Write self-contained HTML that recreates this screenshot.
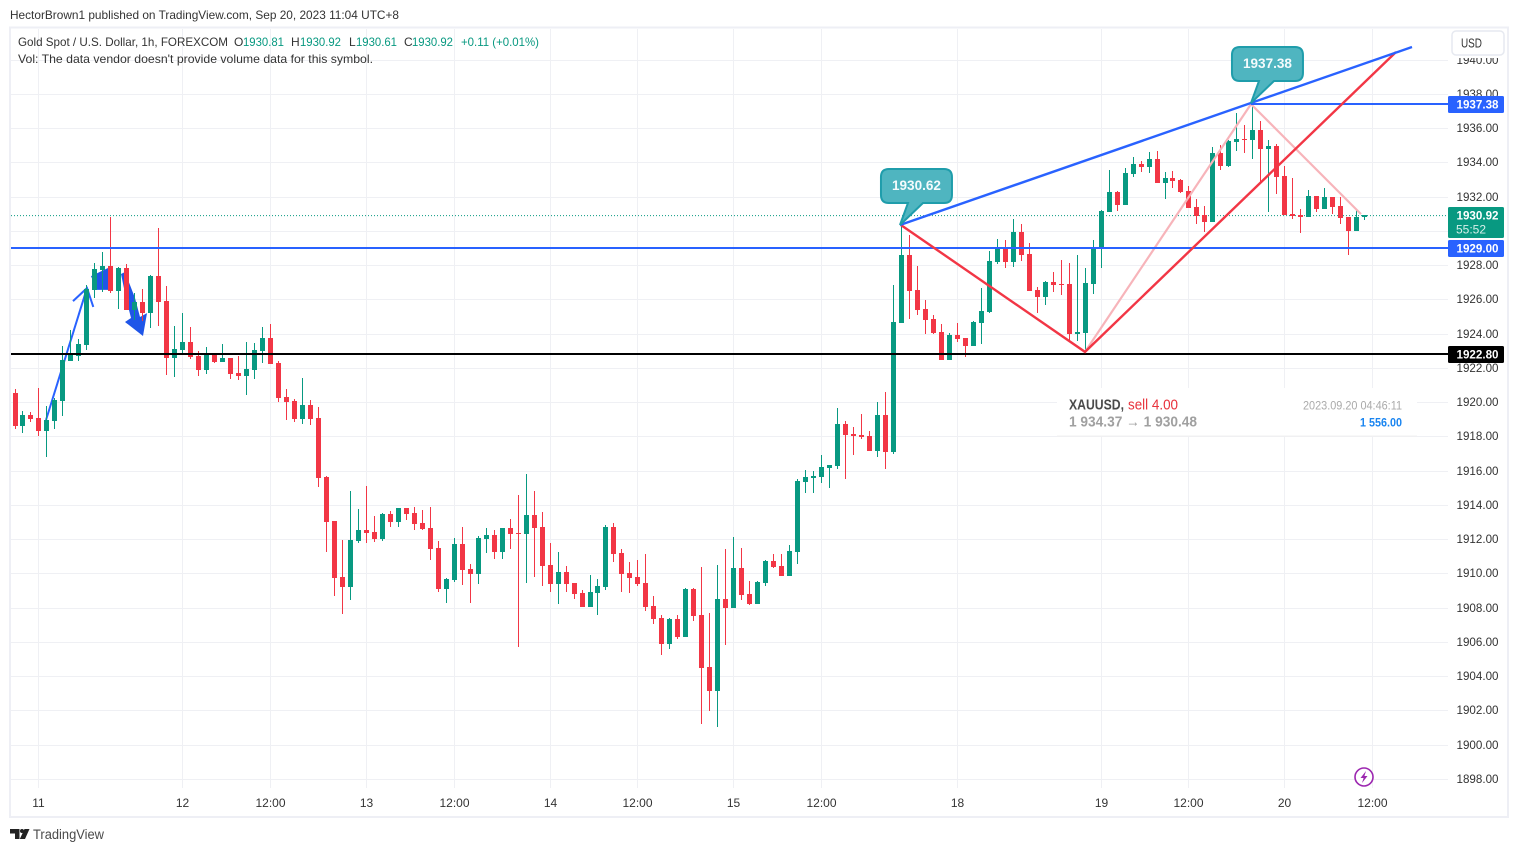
<!DOCTYPE html>
<html lang="en">
<head>
<meta charset="utf-8">
<title>XAUUSD 1h chart</title>
<style>
html,body{margin:0;padding:0;background:#fff;width:1518px;height:852px;overflow:hidden}
svg{display:block;font-family:"Liberation Sans","DejaVu Sans",sans-serif}
</style>
</head>
<body>
<svg id="chart" xmlns="http://www.w3.org/2000/svg" width="1518" height="852" viewBox="0 0 1518 852">
  <rect x="0" y="0" width="1518" height="852" fill="#ffffff"/>
  <text x="10" y="19" font-size="12" fill="#333" textLength="389" lengthAdjust="spacingAndGlyphs">HectorBrown1 published on TradingView.com, Sep 20, 2023 11:04 UTC+8</text>
  <rect x="10" y="27.5" width="1498" height="789.5" fill="none" stroke="#eeeff5" stroke-width="2"/>
  <g id="grid"></g>
  <g id="under-drawings"></g>
  <g id="candles" shape-rendering="crispEdges"></g>
  <g id="drawings"></g>

  <g>
    <rect x="1057" y="388" width="360" height="48" fill="#ffffff"/>
    <rect x="1057" y="435.5" width="360" height="1" fill="#f0f0f0"/>
    <text x="1069" y="409.5" font-size="15" font-weight="700" fill="#4a4a4a" textLength="55" lengthAdjust="spacingAndGlyphs">XAUUSD,</text>
    <text x="1128" y="409.5" font-size="15" fill="#e8323c" textLength="50" lengthAdjust="spacingAndGlyphs">sell 4.00</text>
    <text x="1069" y="426.5" font-size="15" font-weight="700" fill="#a0a0a0" textLength="128" lengthAdjust="spacingAndGlyphs">1 934.37 → 1 930.48</text>
    <text x="1303" y="409.5" font-size="12" fill="#aaaaaa" textLength="99" lengthAdjust="spacingAndGlyphs">2023.09.20 04:46:11</text>
    <text x="1360" y="426.5" font-size="12" font-weight="700" fill="#1a85f0" textLength="42" lengthAdjust="spacingAndGlyphs">1 556.00</text>
  </g>

  <rect x="1448" y="29" width="59" height="787" fill="#ffffff"/>
  <g id="price-axis"></g>
  <g id="time-axis"></g>
  <rect x="1448" y="29" width="59" height="29" fill="#ffffff"/>
  <g id="tags"></g>

  <rect x="1452" y="31" width="52" height="24" rx="4" fill="#ffffff" stroke="#e6e9f0" stroke-width="1.5"/>
  <text x="1461" y="47.5" font-size="12.5" fill="#333" textLength="21" lengthAdjust="spacingAndGlyphs">USD</text>

  <g font-size="12">
    <text x="18" y="46" fill="#333" textLength="210" lengthAdjust="spacingAndGlyphs">Gold Spot / U.S. Dollar, 1h, FOREXCOM</text>
    <text x="234" y="46" fill="#333">O</text>
    <text x="243" y="46" fill="#089981" textLength="41" lengthAdjust="spacingAndGlyphs">1930.81</text>
    <text x="291" y="46" fill="#333">H</text>
    <text x="300" y="46" fill="#089981" textLength="41" lengthAdjust="spacingAndGlyphs">1930.92</text>
    <text x="349" y="46" fill="#333">L</text>
    <text x="356" y="46" fill="#089981" textLength="41" lengthAdjust="spacingAndGlyphs">1930.61</text>
    <text x="404" y="46" fill="#333">C</text>
    <text x="412" y="46" fill="#089981" textLength="41" lengthAdjust="spacingAndGlyphs">1930.92</text>
    <text x="461" y="46" fill="#089981" textLength="78" lengthAdjust="spacingAndGlyphs">+0.11 (+0.01%)</text>
    <text x="18" y="63" fill="#333" textLength="355" lengthAdjust="spacingAndGlyphs">Vol: The data vendor doesn't provide volume data for this symbol.</text>
  </g>

  <g>
    <circle cx="1364" cy="777" r="9" fill="#ffffff" stroke="#9c27b0" stroke-width="1.6"/>
    <path d="M1366 771 L1360.5 778 L1363.6 778 L1362 783 L1367.5 776 L1364.4 776 Z" fill="#9c27b0"/>
  </g>

  <g>
    <path d="M10 829 H19.5 V839 H15 V833.5 H10 Z" fill="#222"/>
    <circle cx="22" cy="831" r="2" fill="#222"/>
    <path d="M24.5 829 H29.5 L25 839 H19.8 Z" fill="#222"/>
    <text x="33" y="839" font-size="13.5" fill="#4a4a4a" textLength="71" lengthAdjust="spacingAndGlyphs">TradingView</text>
  </g>
</svg>

<script>
const opens = [
1920.53,1918.61,1919.25,1919.07,1918.31,1918.90,1920.07,1922.40,1922.69,1923.34,
1926.55,1927.71,1927.95,1926.49,1927.83,1925.38,1925.85,1925.20,1927.36,1925.90,
1922.58,1923.04,1923.51,1922.69,1921.88,1922.81,1922.34,1922.58,1921.70,1921.53,
1921.88,1922.99,1923.74,1922.28,1920.30,1920.07,1919.02,1919.83,1919.07,1915.63,
1913.06,1909.79,1909.21,1911.89,1912.53,1912.42,1912.01,1913.47,1913.00,1913.82,
1913.53,1912.94,1912.65,1911.48,1909.09,1909.61,1911.72,1910.26,1909.97,1912.01,
1912.24,1911.25,1912.65,1912.36,1912.30,1913.41,1912.71,1910.49,1909.38,1910.08,
1909.44,1908.86,1908.04,1908.86,1909.21,1912.71,1911.19,1910.03,1909.79,1909.44,
1908.10,1907.40,1905.88,1907.34,1906.29,1909.09,1907.58,1904.54,1903.14,1908.51,
1907.98,1910.32,1908.80,1908.22,1909.44,1910.73,1910.44,1909.85,1911.25,1915.34,
1915.57,1915.63,1916.16,1916.27,1918.73,1918.14,1918.08,1918.02,1917.15,1919.25,
1917.09,1924.62,1928.59,1926.55,1925.44,1924.85,1924.09,1922.46,1923.92,1923.74,
1923.28,1924.62,1925.26,1928.18,1928.94,1928.18,1929.93,1928.65,1926.55,1926.14,
1927.01,1926.90,1926.90,1923.98,1924.04,1926.90,1929.00,1931.10,1932.27,1931.51,
1933.32,1933.90,1933.72,1934.19,1932.79,1933.08,1932.97,1932.32,1931.39,1930.92,
1930.51,1934.54,1933.78,1935.18,1935.36,1935.30,1935.88,1934.78,1934.95,1933.20,
1930.98,1930.92,1930.81,1932.03,1931.27,1931.97,1931.45,1930.81,1929.99,1930.81];
const highs = [
1920.75,1919.48,1919.42,1920.83,1919.77,1920.24,1923.28,1924.21,1923.69,1926.84,
1928.12,1928.76,1930.81,1927.89,1928.06,1926.37,1926.60,1927.42,1930.17,1926.78,
1924.44,1925.20,1924.39,1922.99,1923.22,1922.81,1923.39,1922.58,1922.69,1923.51,
1923.45,1924.39,1924.56,1922.40,1920.77,1920.18,1921.41,1920.12,1919.72,1915.69,
1913.06,1911.95,1914.81,1913.76,1915.10,1913.35,1913.53,1913.64,1913.82,1913.82,
1913.88,1913.70,1913.88,1911.89,1909.73,1912.07,1912.71,1910.55,1912.18,1912.65,
1912.53,1912.65,1913.18,1914.58,1915.80,1914.81,1913.58,1911.77,1911.25,1910.43,
1909.44,1909.03,1909.91,1909.67,1912.83,1912.95,1911.43,1910.67,1910.79,1911.14,
1908.68,1907.58,1907.40,1907.58,1909.15,1909.15,1910.38,1907.69,1910.49,1911.43,
1912.13,1911.49,1909.56,1909.56,1910.79,1911.14,1911.14,1911.66,1915.51,1916.04,
1915.98,1916.92,1916.33,1919.66,1918.90,1918.55,1919.31,1918.32,1920.01,1920.59,
1926.84,1930.45,1929.76,1927.95,1925.96,1925.09,1924.56,1924.04,1924.62,1923.74,
1924.74,1926.66,1928.82,1929.52,1929.46,1930.69,1930.40,1929.29,1926.72,1927.07,
1927.60,1928.30,1928.12,1928.59,1927.83,1929.46,1931.22,1933.55,1932.32,1933.67,
1934.31,1934.08,1934.60,1934.66,1933.43,1933.49,1933.02,1932.62,1931.86,1931.45,
1934.89,1935.01,1935.30,1936.88,1936.18,1937.38,1936.41,1935.30,1935.07,1933.78,
1933.08,1931.27,1932.38,1932.03,1932.50,1931.97,1931.97,1930.81,1931.27,1930.92];
const lows = [
1918.43,1918.20,1918.84,1918.02,1916.80,1918.43,1919.19,1922.40,1922.40,1923.04,
1926.08,1926.43,1926.37,1925.44,1925.38,1924.79,1924.74,1924.33,1924.44,1921.58,
1921.47,1922.87,1922.52,1921.53,1921.64,1922.28,1922.34,1921.35,1921.29,1920.42,
1921.35,1922.28,1922.23,1920.01,1918.96,1918.84,1918.72,1918.67,1915.04,1911.25,
1908.68,1907.63,1908.45,1911.77,1911.77,1911.83,1911.89,1912.71,1912.71,1913.12,
1912.53,1912.53,1910.78,1908.91,1908.27,1909.50,1909.32,1908.27,1909.38,1911.19,
1910.84,1910.84,1911.42,1905.70,1909.44,1909.79,1909.26,1908.91,1908.21,1908.91,
1908.51,1908.04,1908.04,1907.57,1909.03,1910.67,1908.92,1908.86,1909.27,1907.81,
1907.05,1905.24,1905.59,1906.17,1906.29,1907.22,1901.21,1901.97,1901.04,1905.82,
1907.98,1908.45,1908.16,1908.22,1909.27,1910.32,1909.85,1909.85,1910.55,1914.70,
1914.70,1915.28,1914.99,1916.10,1915.51,1916.92,1917.85,1917.15,1916.80,1916.10,
1916.97,1924.62,1924.85,1925.09,1923.98,1923.98,1922.46,1922.46,1923.51,1922.63,
1923.28,1923.39,1925.20,1928.06,1927.83,1927.89,1928.24,1926.49,1925.20,1925.67,
1926.43,1926.25,1923.63,1923.57,1922.93,1926.31,1927.83,1931.10,1931.16,1931.51,
1933.14,1933.43,1933.37,1932.79,1931.86,1932.50,1932.21,1931.33,1930.40,1929.93,
1930.51,1933.55,1933.72,1934.66,1934.54,1934.19,1932.85,1931.10,1932.15,1930.92,
1930.69,1929.87,1930.81,1931.10,1931.27,1930.98,1930.40,1928.59,1929.99,1930.61];
const closes = [
1918.61,1919.25,1919.02,1918.31,1918.96,1920.12,1922.46,1922.75,1923.39,1926.60,
1927.77,1927.95,1926.49,1927.83,1925.38,1925.85,1925.20,1927.36,1925.85,1922.58,
1923.10,1923.51,1922.63,1921.88,1922.81,1922.34,1922.58,1921.64,1921.53,1921.93,
1923.04,1923.74,1922.23,1920.24,1920.01,1919.02,1919.83,1919.02,1915.57,1913.00,
1909.73,1909.21,1911.95,1912.53,1912.36,1912.01,1913.47,1913.00,1913.82,1913.47,
1912.88,1912.59,1911.42,1909.09,1909.67,1911.72,1910.20,1909.97,1912.07,1912.24,
1911.25,1912.65,1912.30,1912.30,1913.41,1912.65,1910.43,1909.38,1910.08,1909.38,
1908.80,1908.04,1908.91,1909.26,1912.71,1911.14,1909.97,1909.74,1909.38,1908.04,
1907.34,1905.88,1907.34,1906.29,1909.09,1907.52,1904.48,1903.14,1908.51,1907.98,
1910.32,1908.74,1908.22,1909.50,1910.73,1910.38,1909.85,1911.31,1915.40,1915.63,
1915.69,1916.21,1916.33,1918.73,1918.08,1918.02,1917.97,1917.15,1919.25,1917.09,
1924.68,1928.59,1926.49,1925.38,1924.79,1924.04,1922.46,1923.92,1923.69,1923.28,
1924.68,1925.32,1928.24,1928.94,1928.18,1929.93,1928.59,1926.49,1926.14,1927.01,
1926.84,1926.84,1923.98,1924.09,1926.95,1929.04,1931.16,1932.27,1931.51,1933.37,
1933.90,1933.72,1934.19,1932.79,1933.08,1932.91,1932.27,1931.33,1930.86,1930.51,
1934.54,1933.78,1935.24,1935.36,1935.30,1935.88,1934.78,1934.95,1933.14,1930.92,
1930.86,1930.81,1932.03,1931.27,1931.97,1931.39,1930.75,1929.99,1930.81,1930.92];

const priceTicks = [1898,1900,1902,1904,1906,1908,1910,1912,1914,1916,1918,1920,1922,1924,1926,1928,1930,1932,1934,1936,1938,1940];
const priceTickLabels = ["1898.00","1900.00","1902.00","1904.00","1906.00","1908.00","1910.00","1912.00","1914.00","1916.00","1918.00","1920.00","1922.00","1924.00","1926.00","1928.00","","1932.00","1934.00","1936.00","1938.00","1940.00"];
const timeTickBars = [3,21,32,44,55,67,78,90,101,118,136,147,159,170];
const timeTickLabels = ["11","12","12:00","13","12:00","14","12:00","15","12:00","18","19","12:00","20","12:00"];

const levelPrices = [1937.38,1929.00,1922.80];
const levelLabels = ["1937.38","1929.00","1922.80"];
const levelStartBars = [154.7,-1,-1];
const levelKinds = ["blue","blue","black"];
const blueTrendBars = [110.75,174.87];
const blueTrendPrices = [1930.34,1940.73];
const redTrendBars = [110.87,133.92,172.86];
const redTrendPrices = [1930.34,1922.93,1940.44];
const pinkTrendBars = [133.92,154.7,168.48];
const pinkTrendPrices = [1922.93,1937.40,1930.98];
const thinArrowBars = [3.82,8.95];
const thinArrowPrices = [1918.96,1926.66];
const thinHeadBars = [7.2,8.95,9.74];
const thinHeadPrices = [1925.90,1926.66,1925.56];
const thickOneBars = [9.45,11.58,11.58,10.2];
const thickOnePrices = [1927.36,1927.83,1926.55,1926.55];
const thickTwoBars = [13.21,13.71,14.96,15.59,16.47,15.96,13.71,14.46,13.84];
const thickTwoPrices = [1927.48,1927.60,1926.08,1924.97,1925.20,1923.86,1924.68,1924.91,1926.08];
const calloutBars = [110.75,154.7];
const calloutPrices = [1930.34,1937.46];
const calloutLabels = ["1930.62","1937.38"];
const lastPriceCountdown = "55:52";

const NS = 'http://www.w3.org/2000/svg';
const GREEN = '#089981', RED = '#f23645', BLUE = '#2962ff';

function yOf(price){ return 779 - (price - 1898) * 17.13; }
function colOf(bar){ return Math.floor(15 + bar * 7.9862); }
function xOf(bar){ return 15.5 + bar * 7.9862; }
function make(parent, tag, attrs){
  const el = document.createElementNS(NS, tag);
  for (const k in attrs) el.setAttribute(k, attrs[k]);
  parent.appendChild(el);
  return el;
}
function pts(bars, prices){
  return bars.map((b, i) => xOf(b).toFixed(1) + ',' + yOf(prices[i]).toFixed(1)).join(' ');
}

const gridG = document.getElementById('grid');
const candlesG = document.getElementById('candles');
const underG = document.getElementById('under-drawings');
const drawG = document.getElementById('drawings');
const priceAxisG = document.getElementById('price-axis');
const timeAxisG = document.getElementById('time-axis');
const tagsG = document.getElementById('tags');

priceTicks.forEach((p, i) => {
  const y = Math.round(yOf(p));
  const line = make(gridG, 'rect', {x:11, y:y, width:1437, height:1, fill:'#eff0f4'});
  
  
  if (priceTickLabels[i]) {
    const t = make(priceAxisG, 'text', {x:1456.5, y:y + 4, 'font-size':12, fill:'#333', textLength:42, lengthAdjust:'spacingAndGlyphs'});
    t.textContent = priceTickLabels[i];
    
    
  }
});

timeTickBars.forEach((b, i) => {
  const x = colOf(b);
  const line = make(gridG, 'rect', {x:x, y:29, width:1, height:759, fill:'#eff0f4'});
  
  
  const t = make(timeAxisG, 'text', {x:x + 0.5, y:807, 'font-size':12, fill:'#333', 'text-anchor':'middle'});
  t.textContent = timeTickLabels[i];
  
  
});

const lastLine = make(gridG, 'line', {x1:11, x2:1448, y1:yOf(closes[closes.length - 1]) + .5, y2:yOf(closes[closes.length - 1]) + .5, stroke:GREEN, 'stroke-width':1, 'stroke-dasharray':'1 2'});



const thinLine = make(underG, 'polyline', {points:pts(thinArrowBars, thinArrowPrices), fill:'none', stroke:BLUE, 'stroke-width':2});


const thinHead = make(underG, 'polyline', {points:pts(thinHeadBars, thinHeadPrices), fill:'none', stroke:BLUE, 'stroke-width':2});


const thick1 = make(underG, 'polygon', {points:pts(thickOneBars, thickOnePrices), fill:'#1f55e8'});


const thick2 = make(underG, 'polygon', {points:pts(thickTwoBars, thickTwoPrices), fill:'#1f55e8'});



opens.forEach((o, i) => {
  const c = closes[i];
  const color = c >= o ? GREEN : RED;
  const x = colOf(i);
  const hiY = Math.round(yOf(highs[i]));
  const loY = Math.round(yOf(lows[i]));
  const topY = Math.round(yOf(Math.max(o, c)));
  const botY = Math.round(yOf(Math.min(o, c)));
  const wick = make(candlesG, 'rect', {x:x, y:hiY, width:1, height:Math.max(1, loY - hiY), fill:color});
  
  
  const body = make(candlesG, 'rect', {x:x - 2, y:topY, width:5, height:Math.max(1, botY - topY), fill:color});
  
  
});

const pinkLine = make(drawG, 'polyline', {points:pts(pinkTrendBars, pinkTrendPrices), fill:'none', stroke:'#f7b4ba', 'stroke-width':2.2});



levelPrices.forEach((p, i) => {
  const y = Math.round(yOf(p));
  const startX = levelStartBars[i] < 0 ? 11 : xOf(levelStartBars[i]);
  const col = levelKinds[i] === 'black' ? '#000000' : BLUE;
  const line = make(drawG, 'rect', {x:startX, y:y - 1, width:1448 - startX, height:2, fill:col});
  
  
});

const redLine = make(drawG, 'polyline', {points:pts(redTrendBars, redTrendPrices), fill:'none', stroke:'#f23645', 'stroke-width':2.4});


const blueLine = make(drawG, 'polyline', {points:pts(blueTrendBars, blueTrendPrices), fill:'none', stroke:BLUE, 'stroke-width':2.4});



calloutBars.forEach((b, i) => {
  const tx = xOf(b), ty = yOf(calloutPrices[i]);
  const x1 = tx - 19, x2 = tx + 52, y1 = ty - 56, y2 = ty - 22, r = 8;
  const d = 'M' + (x1 + r) + ' ' + y1 + ' H' + (x2 - r) + ' Q' + x2 + ' ' + y1 + ' ' + x2 + ' ' + (y1 + r) +
    ' V' + (y2 - r) + ' Q' + x2 + ' ' + y2 + ' ' + (x2 - r) + ' ' + y2 + ' H' + (tx + 23) + ' L' + tx + ' ' + ty +
    ' L' + (tx + 8) + ' ' + y2 + ' H' + (x1 + r) + ' Q' + x1 + ' ' + y2 + ' ' + x1 + ' ' + (y2 - r) +
    ' V' + (y1 + r) + ' Q' + x1 + ' ' + y1 + ' ' + (x1 + r) + ' ' + y1 + ' Z';
  const shape = make(drawG, 'path', {d:d, fill:'#4fb5c0', stroke:'#1f9dab', 'stroke-width':2});
  
  
  const t = make(drawG, 'text', {x:tx - 8, y:ty - 35, 'font-size':14, 'font-weight':700, fill:'#f4fbfc', textLength:49, lengthAdjust:'spacingAndGlyphs'});
  t.textContent = calloutLabels[i];
  
  
});

levelPrices.forEach((p, i) => {
  const y = Math.round(yOf(p));
  const bg = levelKinds[i] === 'black' ? '#000000' : BLUE;
  const r = make(tagsG, 'rect', {x:1448, y:y - 8, width:56, height:17, rx:1.5, fill:bg});
  
  
  const t = make(tagsG, 'text', {x:1456.5, y:y + 4.5, 'font-size':12, 'font-weight':700, fill:'#ffffff', textLength:42, lengthAdjust:'spacingAndGlyphs'});
  t.textContent = levelLabels[i];
  
  
});

const lastClose = closes[closes.length - 1];
const lastY = Math.round(yOf(lastClose));
const lastTag = make(tagsG, 'rect', {x:1448, y:lastY - 8, width:56, height:31, rx:1.5, fill:GREEN});


const lastText = make(tagsG, 'text', {x:1456.5, y:lastY + 4.5, 'font-size':12, 'font-weight':700, fill:'#ffffff', textLength:42, lengthAdjust:'spacingAndGlyphs'});
lastText.textContent = lastClose.toFixed(2);


const cdText = make(tagsG, 'text', {x:1456, y:lastY + 18.5, 'font-size':12, fill:'#d6efe9', textLength:30, lengthAdjust:'spacingAndGlyphs'});
cdText.textContent = lastPriceCountdown;


</script>
</body>
</html>
